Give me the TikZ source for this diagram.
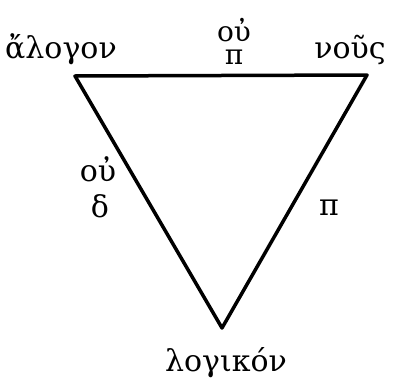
\documentclass[tikz,border=0pt]{standalone}
\usepackage{fontspec}
\setmainfont{DejaVu Serif}
\begin{document}
\begin{tikzpicture}[x=1pt,y=-1pt,
  lbl/.style={font=\fontsize{30}{32}\selectfont, inner sep=0pt, anchor=base},
  small/.style={font=\fontsize{28}{30}\selectfont, inner sep=0pt, anchor=base},
  edge/.style={line width=3.5pt, line join=round}]
\useasboundingbox (0,0) rectangle (406,380);
\coordinate (A) at (75,76);
\coordinate (N) at (367,75);
\coordinate (L) at (222,328);
\draw[edge] (A) -- (N) -- (L) -- cycle;
\node[lbl] (tA) at (61,58) {ἄλογον};
\node[lbl] (tN) at (350,58) {νοῦς};
\node[lbl] (tL) at (226,371) {λογικόν};
\node[small] (t1) at (234,41) {οὐ};
\node[small] (t2) at (234,64) {π};
\node[lbl] (t3) at (98,181) {οὐ};
\node[lbl] (t4) at (100,217) {δ};
\node[lbl] (t5) at (329,215) {π};
\end{tikzpicture}
\end{document}
